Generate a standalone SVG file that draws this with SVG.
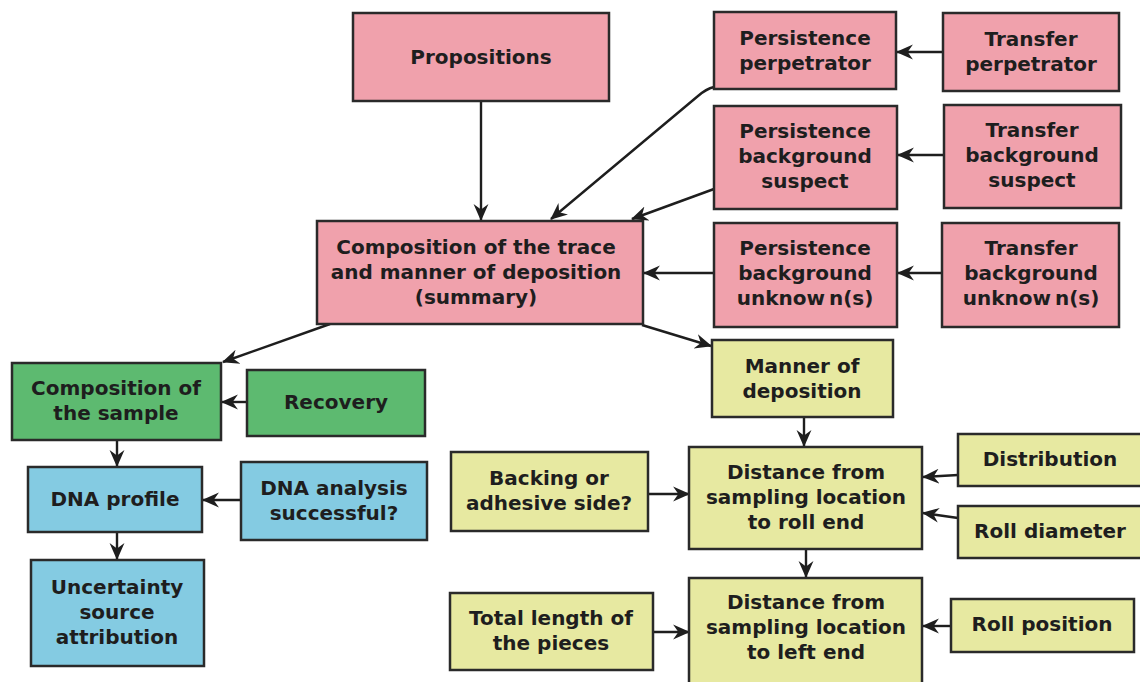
<svg xmlns="http://www.w3.org/2000/svg" width="1140" height="682" viewBox="0 0 1140 682">
  <style>
    .box { stroke: #2a2a2a; stroke-width: 2.5; }
    .pink { fill: #f0a1ac; }
    .green { fill: #5dba70; }
    .blue { fill: #84cbe2; }
    .yellow { fill: #e7e9a1; }
    text { font-family: "DejaVu Sans", "Verdana", sans-serif; font-weight: bold; font-size: 20px; fill: #1e1e1e; text-anchor: middle; }
    .edge { stroke: #1e1e1e; stroke-width: 2.4; fill: none; marker-end: url(#arrow); }
  </style>
  <defs>
    <marker id="arrow" markerUnits="userSpaceOnUse" markerWidth="17" markerHeight="17" viewBox="0 0 16 16" refX="15" refY="8" orient="auto">
      <path d="M0,1 L16,8 L0,15 L5,8 z" fill="#1e1e1e"/>
    </marker>
  </defs>
  <rect width="1140" height="682" fill="#ffffff"/>

  <g id="connectors">
    <line class="edge" x1="481" y1="101" x2="481" y2="220"/>
    <path class="edge" d="M714,87 Q706,89 698,96 L551,219"/>
    <path class="edge" d="M714,189 L632,219"/>
    <line class="edge" x1="714" y1="273" x2="644" y2="273"/>
    <line class="edge" x1="943" y1="52" x2="897" y2="52"/>
    <line class="edge" x1="944" y1="155" x2="898" y2="155"/>
    <line class="edge" x1="942" y1="273" x2="898" y2="273"/>
    <line class="edge" x1="330" y1="324" x2="223" y2="362"/>
    <line class="edge" x1="642" y1="325" x2="711" y2="346"/>
    <line class="edge" x1="247" y1="402" x2="222" y2="402"/>
    <line class="edge" x1="117" y1="441" x2="117" y2="466"/>
    <line class="edge" x1="241" y1="500" x2="203" y2="500"/>
    <line class="edge" x1="117" y1="533" x2="117" y2="559"/>
    <line class="edge" x1="804" y1="418" x2="804" y2="446"/>
    <line class="edge" x1="649" y1="494" x2="689" y2="494"/>
    <line class="edge" x1="958" y1="475" x2="923" y2="477"/>
    <line class="edge" x1="958" y1="518" x2="923" y2="513"/>
    <line class="edge" x1="806" y1="550" x2="806" y2="577"/>
    <line class="edge" x1="653" y1="632" x2="689" y2="632"/>
    <line class="edge" x1="951" y1="626" x2="923" y2="626"/>
  </g>

  <g id="propositions">
    <rect class="box pink" x="353" y="13" width="256" height="88"/>
    <text x="481" y="64">Propositions</text>
  </g>
  <g id="persistence-perpetrator">
    <rect class="box pink" x="714" y="12" width="182" height="77"/>
    <text x="805" y="45">Persistence</text>
    <text x="805" y="70">perpetrator</text>
  </g>
  <g id="transfer-perpetrator">
    <rect class="box pink" x="943" y="13" width="176" height="78"/>
    <text x="1031" y="46">Transfer</text>
    <text x="1031" y="71">perpetrator</text>
  </g>
  <g id="persistence-background-suspect">
    <rect class="box pink" x="714" y="106" width="183" height="103"/>
    <text x="805" y="138">Persistence</text>
    <text x="805" y="163">background</text>
    <text x="805" y="188">suspect</text>
  </g>
  <g id="transfer-background-suspect">
    <rect class="box pink" x="944" y="105" width="177" height="103"/>
    <text x="1032" y="137">Transfer</text>
    <text x="1032" y="162">background</text>
    <text x="1032" y="187">suspect</text>
  </g>
  <g id="persistence-background-unknown">
    <rect class="box pink" x="714" y="223" width="183" height="104"/>
    <text x="805" y="255">Persistence</text>
    <text x="805" y="280">background</text>
    <text x="805" y="305"><tspan>unknow</tspan><tspan dx="4">n(s)</tspan></text>
  </g>
  <g id="transfer-background-unknown">
    <rect class="box pink" x="942" y="223" width="177" height="104"/>
    <text x="1031" y="255">Transfer</text>
    <text x="1031" y="280">background</text>
    <text x="1031" y="305"><tspan>unknow</tspan><tspan dx="4">n(s)</tspan></text>
  </g>
  <g id="trace-composition">
    <rect class="box pink" x="317" y="221" width="326" height="103"/>
    <text x="476" y="254">Composition of the trace</text>
    <text x="476" y="279">and manner of deposition</text>
    <text x="476" y="304">(summary)</text>
  </g>
  <g id="sample-composition">
    <rect class="box green" x="12" y="363" width="209" height="77"/>
    <text x="116" y="395">Composition of</text>
    <text x="116" y="420">the sample</text>
  </g>
  <g id="recovery">
    <rect class="box green" x="247" y="370" width="178" height="66"/>
    <text x="336" y="409">Recovery</text>
  </g>
  <g id="dna-profile">
    <rect class="box blue" x="28" y="467" width="174" height="65"/>
    <text x="115" y="506">DNA profile</text>
  </g>
  <g id="dna-analysis">
    <rect class="box blue" x="241" y="462" width="186" height="78"/>
    <text x="334" y="495">DNA analysis</text>
    <text x="334" y="520">successful?</text>
  </g>
  <g id="uncertainty">
    <rect class="box blue" x="31" y="560" width="173" height="106"/>
    <text x="117" y="594">Uncertainty</text>
    <text x="117" y="619">source</text>
    <text x="117" y="644">attribution</text>
  </g>
  <g id="manner-of-deposition">
    <rect class="box yellow" x="712" y="340" width="181" height="77"/>
    <text x="802" y="373">Manner of</text>
    <text x="802" y="398">deposition</text>
  </g>
  <g id="distance-roll-end">
    <rect class="box yellow" x="689" y="447" width="233" height="102"/>
    <text x="806" y="479">Distance from</text>
    <text x="806" y="504">sampling location</text>
    <text x="806" y="529">to roll end</text>
  </g>
  <g id="backing-side">
    <rect class="box yellow" x="451" y="452" width="197" height="79"/>
    <text x="549" y="485">Backing or</text>
    <text x="549" y="510">adhesive side?</text>
  </g>
  <g id="distribution">
    <rect class="box yellow" x="958" y="434" width="190" height="52"/>
    <text x="1050" y="466">Distribution</text>
  </g>
  <g id="roll-diameter">
    <rect class="box yellow" x="958" y="506" width="190" height="52"/>
    <text x="1050" y="538">Roll diameter</text>
  </g>
  <g id="distance-left-end">
    <rect class="box yellow" x="689" y="578" width="233" height="110"/>
    <text x="806" y="609">Distance from</text>
    <text x="806" y="634">sampling location</text>
    <text x="806" y="659">to left end</text>
  </g>
  <g id="total-length">
    <rect class="box yellow" x="450" y="593" width="203" height="77"/>
    <text x="551" y="625">Total length of</text>
    <text x="551" y="650">the pieces</text>
  </g>
  <g id="roll-position">
    <rect class="box yellow" x="951" y="599" width="183" height="53"/>
    <text x="1042" y="631">Roll position</text>
  </g>
</svg>
